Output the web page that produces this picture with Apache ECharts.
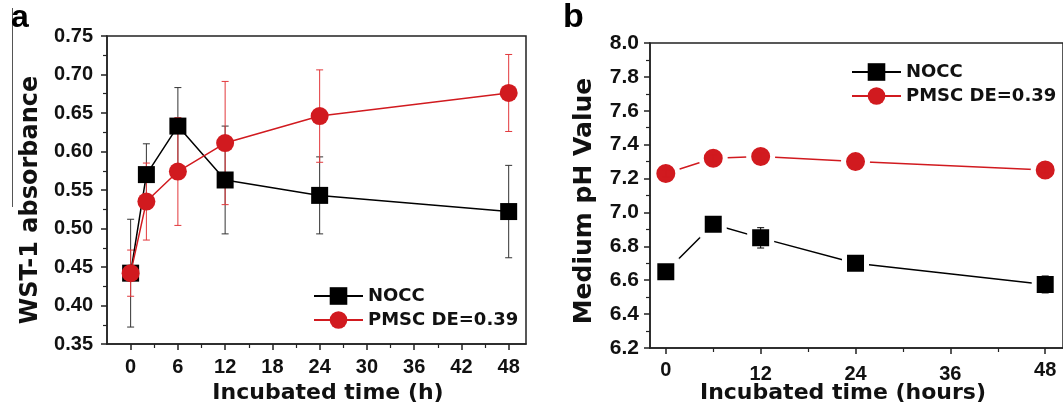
<!DOCTYPE html>
<html>
<head>
<meta charset="utf-8">
<script src="https://cdn.jsdelivr.net/npm/echarts@6/dist/echarts.min.js"></script>
<style>
html,body{margin:0;padding:0;background:#fff;}
#c{width:1063px;height:409px;}
</style>
</head>
<body>
<div id="c"></div>
<script>
// ---- Panel a data ----
const hoursA = [0, 2, 6, 12, 24, 48];
const noccA = [0.442, 0.570, 0.633, 0.563, 0.543, 0.522];
const noccErrA = [0.07, 0.04, 0.05, 0.07, 0.05, 0.06];
const pmscA = [0.442, 0.535, 0.574, 0.611, 0.646, 0.676];
const pmscErrA = [0.03, 0.05, 0.07, 0.08, 0.06, 0.05];
const xTicksA = [0, 6, 12, 18, 24, 30, 36, 42, 48];
const xMinorA = [3, 9, 15, 21, 27, 33, 39, 45];

// ---- Panel b data ----
const hoursB = [0, 6, 12, 24, 48];
const noccB = [6.65, 6.93, 6.85, 6.70, 6.575];
const noccErrB = [0.02, 0.02, 0.06, 0.03, 0.05];
const pmscB = [7.23, 7.32, 7.33, 7.30, 7.25];
const pmscErrB = [0.02, 0.02, 0.02, 0.02, 0.02];
const xTicksB = [0, 12, 24, 36, 48];
const xMinorB = [6, 18, 30, 42];

const seriesNames = ['NOCC', 'PMSC DE=0.39'];

const RED = '#d11a1f';
const FONT = '"Liberation Sans", Arial, sans-serif';
const WFONT = '"DejaVu Sans", sans-serif';

function pairs(xs, ys) { return xs.map((x, i) => [x, ys[i]]); }
function errData(xs, ys, es) { return xs.map((x, i) => [x, ys[i] - es[i], ys[i] + es[i]]); }

function errSeries(name, xs, ys, es, color, xi, yi, z) {
  return {
    type: 'custom', name: name + ' err', xAxisIndex: xi, yAxisIndex: yi, z: z,
    silent: true,
    data: errData(xs, ys, es),
    renderItem: function (params, api) {
      const x = api.value(0);
      const lo = api.coord([x, api.value(1)]);
      const hi = api.coord([x, api.value(2)]);
      const w = 3.5;
      const st = { stroke: color, lineWidth: 1 };
      return {
        type: 'group',
        children: [
          { type: 'line', shape: { x1: lo[0], y1: lo[1], x2: hi[0], y2: hi[1] }, style: st },
          { type: 'line', shape: { x1: lo[0] - w, y1: lo[1], x2: lo[0] + w, y2: lo[1] }, style: st },
          { type: 'line', shape: { x1: hi[0] - w, y1: hi[1], x2: hi[0] + w, y2: hi[1] }, style: st }
        ]
      };
    }
  };
}

const axisTxt = { color: '#111', fontFamily: FONT, fontWeight: 'bold' };
const legTxt = { color: '#111', fontFamily: WFONT, fontWeight: 'bold', fontSize: 18 };

function mainX(gi, min, max, ticks, fs, margin, rich) {
  return {
    type: 'value', gridIndex: gi, min: min, max: max, position: 'bottom',
    axisLine: { show: true, onZero: false, lineStyle: { color: '#222', width: 1.5 } },
    axisTick: { show: true, inside: false, length: 6, customValues: ticks, lineStyle: { color: '#222', width: 1.5 } },
    axisLabel: Object.assign({ show: true, fontSize: fs, margin: margin, customValues: ticks }, axisTxt,
      rich ? { rich: rich, formatter: function (v) { return (v === 12 || v === 24 || v === 36) ? '{lo|' + v + '}' : '{hi|' + v + '}'; } } : {}),
    splitLine: { show: false }
  };
}
function minorX(gi, min, max, ticks) {
  return {
    type: 'value', gridIndex: gi, min: min, max: max, position: 'bottom',
    axisLine: { show: false, onZero: false },
    axisTick: { show: true, inside: false, length: 4, customValues: ticks, lineStyle: { color: '#222', width: 1.2 } },
    axisLabel: { show: false },
    splitLine: { show: false }
  };
}

const option = {
  animation: false,
  backgroundColor: '#fff',
  grid: [
    { left: 107, right: 537, top: 36, bottom: 65, show: true, borderColor: '#222', borderWidth: 1.5, backgroundColor: 'transparent' },
    { left: 650, right: -5, top: 43, bottom: 61, show: true, borderColor: '#222', borderWidth: 1.5, backgroundColor: 'transparent' }
  ],
  xAxis: [
    mainX(0, -3, 50.2, xTicksA, 20, 13),
    minorX(0, -3, 50.2, xMinorA),
    mainX(1, -2, 50.25, xTicksB, 20, 12, {
      hi: { fontSize: 20, fontWeight: 'bold', fontFamily: FONT, color: '#111' },
      lo: { fontSize: 20, fontWeight: 'bold', fontFamily: FONT, color: '#111', padding: [4, 0, 0, 0] }
    }),
    minorX(1, -2, 50.25, xMinorB)
  ],
  yAxis: [
    {
      type: 'value', gridIndex: 0, min: 0.35, max: 0.75, interval: 0.05,
      axisLine: { show: true, onZero: false, lineStyle: { color: '#222', width: 1.5 } },
      axisTick: { show: true, inside: false, length: 6, lineStyle: { color: '#222', width: 1.5 } },
      minorTick: { show: true, splitNumber: 2, length: 4, lineStyle: { color: '#222', width: 1.2 } },
      axisLabel: Object.assign({ fontSize: 20, margin: 14, formatter: v => v.toFixed(2) }, axisTxt),
      splitLine: { show: false }, minorSplitLine: { show: false }
    },
    {
      type: 'value', gridIndex: 1, min: 6.2, max: 8.0, interval: 0.2,
      axisLine: { show: true, onZero: false, lineStyle: { color: '#222', width: 1.5 } },
      axisTick: { show: true, inside: false, length: 6, lineStyle: { color: '#222', width: 1.5 } },
      minorTick: { show: true, splitNumber: 2, length: 4, lineStyle: { color: '#222', width: 1.2 } },
      axisLabel: Object.assign({ fontSize: 21, margin: 11, formatter: v => v.toFixed(1) }, axisTxt),
      splitLine: { show: false }, minorSplitLine: { show: false }
    }
  ],
  legend: [
    {
      data: seriesNames, orient: 'vertical', left: 308, top: 282,
      itemWidth: 49, itemHeight: 22, itemGap: 6,
      textStyle: legTxt
    },
    {
      data: seriesNames, orient: 'vertical', left: 846, top: 58,
      itemWidth: 49, itemHeight: 22, itemGap: 6,
      textStyle: legTxt
    }
  ],
  series: [
    errSeries('NOCC', hoursA, noccA, noccErrA, '#333', 0, 0, 1),
    errSeries('PMSC', hoursA, pmscA, pmscErrA, '#e2383c', 0, 0, 1),
    {
      type: 'line', name: seriesNames[0], xAxisIndex: 0, yAxisIndex: 0, z: 3,
      data: pairs(hoursA, noccA), symbol: 'rect', symbolSize: 17,
      lineStyle: { color: '#000', width: 1.5 }, itemStyle: { color: '#000' }
    },
    {
      type: 'line', name: seriesNames[1], xAxisIndex: 0, yAxisIndex: 0, z: 4,
      data: pairs(hoursA, pmscA), symbol: 'circle', symbolSize: 18,
      lineStyle: { color: RED, width: 1.5 }, itemStyle: { color: RED }
    },
    {
      type: 'line', name: seriesNames[0], xAxisIndex: 2, yAxisIndex: 1, z: 3,
      data: pairs(hoursB, noccB), symbol: 'rect', symbolSize: 22,
      lineStyle: { color: '#000', width: 1.5 }, itemStyle: { color: '#000', borderColor: '#fff', borderWidth: 5 }
    },
    {
      type: 'line', name: seriesNames[1], xAxisIndex: 2, yAxisIndex: 1, z: 4,
      data: pairs(hoursB, pmscB), symbol: 'circle', symbolSize: 24,
      lineStyle: { color: RED, width: 1.5 }, itemStyle: { color: RED, borderColor: '#fff', borderWidth: 5 }
    },
    errSeries('NOCC', hoursB, noccB, noccErrB, '#000', 2, 1, 6),
    errSeries('PMSC', hoursB, pmscB, pmscErrB, RED, 2, 1, 6)
  ],
  graphic: [
    { type: 'line', shape: { x1: 12.5, y1: 8, x2: 12.5, y2: 207 }, style: { stroke: '#555', lineWidth: 1 } },
    { type: 'text', x: 11, y: 34, style: { text: 'a', fontSize: 32, fontWeight: 'bold', fontFamily: FONT, fill: '#000', verticalAlign: 'bottom' } },
    { type: 'text', x: 563, y: 35, style: { text: 'b', fontSize: 34, fontWeight: 'bold', fontFamily: FONT, fill: '#000', verticalAlign: 'bottom' } },
    { type: 'text', x: 31, y: 200, rotation: Math.PI / 2, style: { text: 'WST-1 absorbance', fontSize: 24, fontWeight: 'bold', fontFamily: WFONT, fill: '#111', align: 'center', verticalAlign: 'middle' } },
    { type: 'text', x: 584, y: 201, rotation: Math.PI / 2, style: { text: 'Medium pH Value', fontSize: 25, fontWeight: 'bold', fontFamily: WFONT, fill: '#111', align: 'center', verticalAlign: 'middle' } },
    { type: 'text', x: 328, y: 393, style: { text: 'Incubated time (h)', fontSize: 22, fontWeight: 'bold', fontFamily: WFONT, fill: '#111', align: 'center', verticalAlign: 'middle' } },
    { type: 'text', x: 843, y: 393, style: { text: 'Incubated time (hours)', fontSize: 22, fontWeight: 'bold', fontFamily: WFONT, fill: '#111', align: 'center', verticalAlign: 'middle' } }
  ]
};

const chart = echarts.init(document.getElementById('c'), null, { renderer: 'canvas' });
chart.setOption(option);
</script>
</body>
</html>
